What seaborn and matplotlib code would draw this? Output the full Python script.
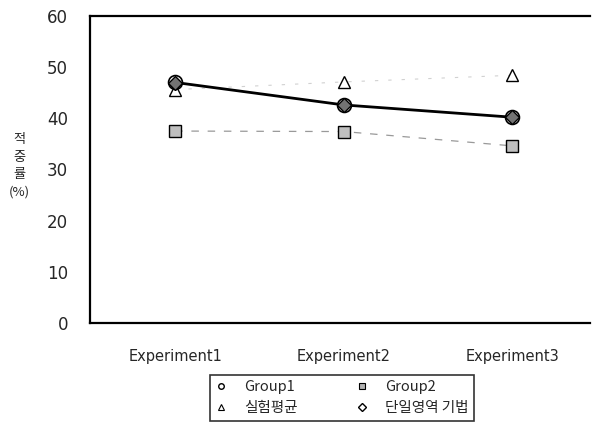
import matplotlib
matplotlib.use("Agg")
import matplotlib.pyplot as plt
import seaborn as sns
import pandas as pd
from matplotlib.lines import Line2D

experiments = ["Experiment1", "Experiment2", "Experiment3"]
group1 = [47.0, 42.6, 40.2]
group2 = [37.5, 37.4, 34.6]
exp_mean = [45.6, 47.1, 48.4]
single_region = [46.8, 42.6, 40.2]
y_ticks = [0, 10, 20, 30, 40, 50, 60]
legend_labels = ["Group1", "Group2", "실험평균", "단일영역 기법"]

sns.set_theme(style="white")
plt.rcParams['font.family'] = ['DejaVu Sans', 'Noto Sans CJK KR']

fig = plt.figure(figsize=(5.93, 4.30), dpi=100)
ax = fig.add_axes([0.152, 0.249, 0.843, 0.714])

df = pd.DataFrame({"x": experiments, "g1": group1, "g2": group2,
                   "mean": exp_mean, "single": single_region})

sns.lineplot(data=df, x="x", y="g2", ax=ax, color="0.6", lw=0.9,
             linestyle=(0, (6, 7)), marker="s", markersize=8,
             markerfacecolor="0.75", markeredgecolor="black", markeredgewidth=1.0,
             sort=False, zorder=2)
sns.lineplot(data=df, x="x", y="mean", ax=ax, color="0.82", lw=0.8,
             linestyle=(0, (3, 9)), marker="^", markersize=8,
             markerfacecolor="white", markeredgecolor="black", markeredgewidth=1.0,
             sort=False, zorder=2)
sns.lineplot(data=df, x="x", y="g1", ax=ax, color="black", lw=2.0,
             marker="o", markersize=10,
             markerfacecolor="white", markeredgecolor="black", markeredgewidth=1.2,
             sort=False, zorder=3)
sns.lineplot(data=df, x="x", y="single", ax=ax, color="black", lw=0,
             marker="D", markersize=7,
             markerfacecolor="0.45", markeredgecolor="black", markeredgewidth=1.0,
             sort=False, zorder=4)

ax.set_xlim(-0.504, 2.46)
ax.set_ylim(0, 60)
ax.set_yticks(y_ticks)
ax.set_yticklabels([str(v) for v in y_ticks], fontsize=12)
ax.tick_params(axis="y", length=0, pad=16)
ax.tick_params(axis="x", length=0, pad=19, labelsize=10.5)
ax.set_xlabel("")
ax.set_ylabel("")
for s in ["top", "left", "bottom"]:
    ax.spines[s].set_color("black")
    ax.spines[s].set_linewidth(1.6)
ax.spines["right"].set_visible(False)

fig.text(19 / 593, 1 - 166 / 430, "적\n중\n률\n(%)", ha="center", va="center",
         fontsize=9.5, family=['Noto Sans CJK KR', 'DejaVu Sans'], linespacing=1.45)

leg_handles = [
    Line2D([], [], ls="", marker="o", ms=4, mfc="white", mec="black", mew=1.0),
    Line2D([], [], ls="", marker="^", ms=4, mfc="white", mec="black", mew=0.8),
    Line2D([], [], ls="", marker="s", ms=4, mfc="0.7", mec="black", mew=0.8),
    Line2D([], [], ls="", marker="D", ms=4, mfc="white", mec="black", mew=1.0),
]
col_labels = [legend_labels[0], legend_labels[2], legend_labels[1], legend_labels[3]]
leg = fig.legend(leg_handles, col_labels, ncol=2, loc="upper left",
                 bbox_to_anchor=(210 / 593, 1 - 375 / 430), frameon=True,
                 fancybox=False, handlelength=0.8, columnspacing=4.0,
                 handletextpad=1.2, borderpad=0.35, labelspacing=0.5,
                 borderaxespad=0,
                 prop={'family': ['Noto Sans CJK KR', 'DejaVu Sans'], 'size': 10.5})
leg.get_frame().set_edgecolor("black")
leg.get_frame().set_linewidth(1.2)

fig.savefig("out.png", dpi=100)
